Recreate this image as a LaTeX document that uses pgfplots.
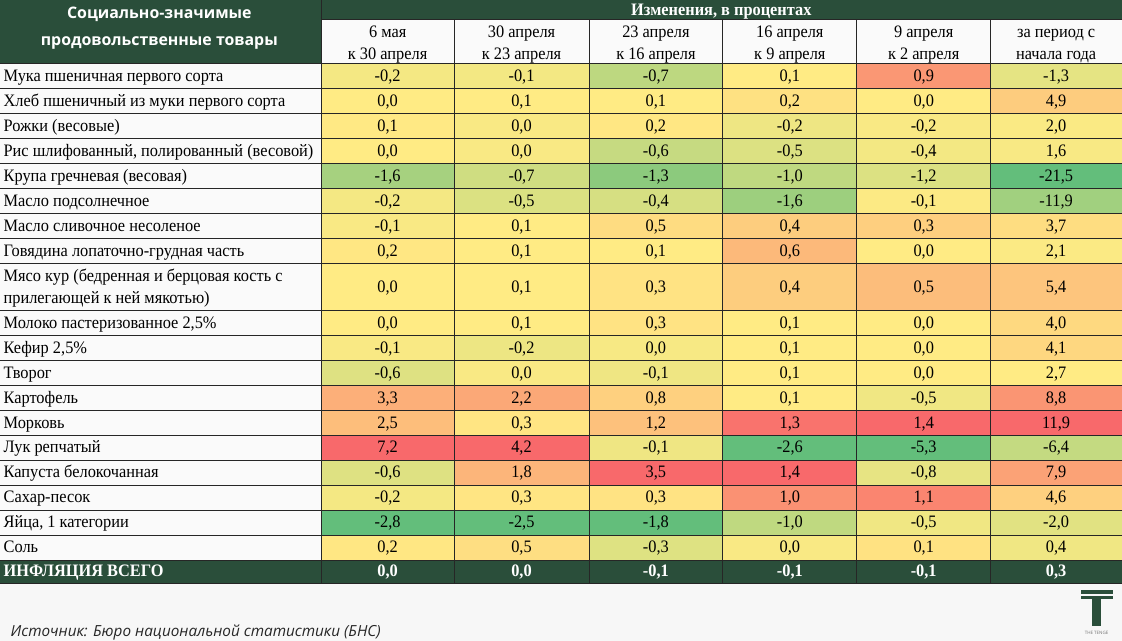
\documentclass[border=0pt]{standalone}
\usepackage{pgfplots}
\pgfplotsset{compat=1.18}
\usepackage{pgfplotstable}
\usepackage{fontspec}
\setmainfont{Liberation Serif}[FakeStretch=0.935]
\newfontfamily\hsans{Open Sans}
\definecolor{dg}{HTML}{2A4E3A}
\definecolor{bg}{HTML}{F7F7F7}
\definecolor{cw}{HTML}{FAFAFA}
\definecolor{exgrn}{RGB}{99,190,123}
\definecolor{exyel}{RGB}{255,235,132}
\definecolor{exred}{RGB}{248,105,107}
\newcommand\fs{\fontsize{17.5}{20}\selectfont}

% a table cell: \mt in [0,1] is the cell's place on the column's colour scale
\pgfdeclareplotmark{cell}{%
  \ifdim\mt pt<0.5pt
    \pgfmathsetmacro\pp{200*\mt}\colorlet{cc}{exyel!\pp!exgrn}%
  \else
    \pgfmathsetmacro\pp{200*(\mt-0.5)}\colorlet{cc}{exred!\pp!exyel}%
  \fi
  \pgfsetfillcolor{cc}%
  \pgfpathrectanglecorners{\pgfpoint{-\cellhw pt}{-\cellhh pt}}{\pgfpoint{\cellhw pt}{\cellhh pt}}%
  \pgfusepathqfill}
\pgfdeclareplotmark{dcell}{%
  \pgfsetfillcolor{dg}%
  \pgfpathrectanglecorners{\pgfpoint{-\cellhw pt}{-\cellhh pt}}{\pgfpoint{\cellhw pt}{\cellhh pt}}%
  \pgfusepathqfill}

% y = row centre (px from top), hh = half row height; columns a..f = weekly changes, %
\pgfplotstableread{
y      hh    a     b     c     d     e     f
76     12.5  -0.2  -0.1  -0.7  0.1   0.9   -1.3
101    12.5  0.0   0.1   0.1   0.2   0.0   4.9
126    12.5  0.1   0.0   0.2   -0.2  -0.2  2.0
151    12.5  0.0   0.0   -0.6  -0.5  -0.4  1.6
176    12.5  -1.6  -0.7  -1.3  -1.0  -1.2  -21.5
201    12.5  -0.2  -0.5  -0.4  -1.6  -0.1  -11.9
226    12.5  -0.1  0.1   0.5   0.4   0.3   3.7
251    12.5  0.2   0.1   0.1   0.6   0.0   2.1
286.75 23.25 0.0   0.1   0.3   0.4   0.5   5.4
322.5  12.5  0.0   0.1   0.3   0.1   0.0   4.0
347.5  12.5  -0.1  -0.2  0.0   0.1   0.0   4.1
372.5  12.5  -0.6  0.0   -0.1  0.1   0.0   2.7
397.5  12.5  3.3   2.2   0.8   0.1   -0.5  8.8
422.5  12.5  2.5   0.3   1.2   1.3   1.4   11.9
447.5  12.5  7.2   4.2   -0.1  -2.6  -5.3  -6.4
472.5  12.5  -0.6  1.8   3.5   1.4   -0.8  7.9
497.5  12.5  -0.2  0.3   0.3   1.0   1.1   4.6
522.5  12.5  -2.8  -2.5  -1.8  -1.0  -0.5  -2.0
547.5  12.5  0.2   0.5   -0.3  0.0   0.1   0.4
}\data

\pgfplotstableread{
x      hw    v
387.5  66.5  0.0
521.5  67.5  0.0
656    67    -0.1
790    67    -0.1
924    67    -0.1
1056.5 65.5  0.3
}\infl

% Excel-style 3-colour scale: min -> green, median -> yellow, max -> red
\newcommand\cscale[4]{ifthenelse(\thisrow{#1}<=(#3), 0.5*(\thisrow{#1}-(#2))/((#3)-(#2)), 0.5+0.5*(\thisrow{#1}-(#3))/((#4)-(#3)))}
\pgfplotsset{
  cellcol/.style n args={5}{
    only marks, mark=cell,
    visualization depends on={value #2 \as \cellhw},
    visualization depends on={\thisrow{hh} \as \cellhh},
    visualization depends on={\thisrow{#1} \as \val},
    visualization depends on={\cscale{#1}{#3}{#4}{#5} \as \mt},
    nodes near coords={\pgfmathprintnumber[fixed,fixed zerofill,precision=1,use comma,assume math mode=true]{\val}},
    every node near coord/.append style={anchor=base, yshift=-5.4pt, font=\fs, text=black, inner sep=0pt},
  }
}

\begin{document}
\begin{tikzpicture}
\begin{axis}[
  set layers,
  scale only axis, width=1122pt, height=641pt,
  xmin=0, xmax=1122, ymin=0, ymax=641, y dir=reverse,
  hide axis, clip=false,
]
% backgrounds
\fill[bg] (axis cs:0,0) rectangle (axis cs:1122,641);
\fill[cw] (axis cs:0,63.5) rectangle (axis cs:321,560);
\fill[cw] (axis cs:321,19) rectangle (axis cs:1122,63.5);
\fill[dg] (axis cs:0,0) rectangle (axis cs:1122,19);
\fill[dg] (axis cs:0,0) rectangle (axis cs:321,63.5);
\fill[dg] (axis cs:0,560) rectangle (axis cs:321,583);

% heat-map cells, one column each (min, median, max of column)
\addplot[cellcol={a}{66.5}{-2.8}{0.0}{7.2}] table[x expr=387.5, y=y] {\data};
\addplot[cellcol={b}{67.5}{-2.5}{0.1}{4.2}] table[x expr=521.5, y=y] {\data};
\addplot[cellcol={c}{67}{-1.8}{0.1}{3.5}] table[x expr=656, y=y] {\data};
\addplot[cellcol={d}{67}{-2.6}{0.1}{1.4}] table[x expr=790, y=y] {\data};
\addplot[cellcol={e}{67}{-5.3}{0.0}{1.4}] table[x expr=924, y=y] {\data};
\addplot[cellcol={f}{65.5}{-21.5}{2.7}{11.9}] table[x expr=1056.5, y=y] {\data};

% total inflation row
\addplot[only marks, mark=dcell, color=dg, mark options={fill=dg, draw=none},
  visualization depends on={\thisrow{hw} \as \cellhw},
  visualization depends on={value 11.5 \as \cellhh},
  visualization depends on={\thisrow{v} \as \val},
  nodes near coords={\pgfmathprintnumber[fixed,fixed zerofill,precision=1,use comma,assume math mode=true]{\val}},
  every node near coord/.append style={anchor=base, yshift=-5.4pt, font=\fs\bfseries, text=white, inner sep=0pt},
] table[x=x, y expr=571.5] {\infl};

% grid (on top of the cells)
\begin{pgfonlayer}{axis foreground}
\draw[black!85, line width=0.9pt]
  (axis cs:321,0) -- (axis cs:321,583)
  (axis cs:454,19) -- (axis cs:454,583)
  (axis cs:589,19) -- (axis cs:589,583)
  (axis cs:723,19) -- (axis cs:723,583)
  (axis cs:857,19) -- (axis cs:857,583)
  (axis cs:991,19) -- (axis cs:991,583)
  (axis cs:321,19) -- (axis cs:1122,19)
  (axis cs:0,63.5) -- (axis cs:1122,63.5)
  (axis cs:0,88.5) -- (axis cs:1122,88.5)
  (axis cs:0,113.5) -- (axis cs:1122,113.5)
  (axis cs:0,138.5) -- (axis cs:1122,138.5)
  (axis cs:0,163.5) -- (axis cs:1122,163.5)
  (axis cs:0,188.5) -- (axis cs:1122,188.5)
  (axis cs:0,213.5) -- (axis cs:1122,213.5)
  (axis cs:0,238.5) -- (axis cs:1122,238.5)
  (axis cs:0,263.5) -- (axis cs:1122,263.5)
  (axis cs:0,310) -- (axis cs:1122,310)
  (axis cs:0,335) -- (axis cs:1122,335)
  (axis cs:0,360) -- (axis cs:1122,360)
  (axis cs:0,385) -- (axis cs:1122,385)
  (axis cs:0,410) -- (axis cs:1122,410)
  (axis cs:0,435) -- (axis cs:1122,435)
  (axis cs:0,460) -- (axis cs:1122,460)
  (axis cs:0,485) -- (axis cs:1122,485)
  (axis cs:0,510) -- (axis cs:1122,510)
  (axis cs:0,535) -- (axis cs:1122,535)
  (axis cs:0,560) -- (axis cs:1122,560)
  (axis cs:0,583) -- (axis cs:1122,583);
\end{pgfonlayer}

% header texts
\node[text=white, font=\hsans\bfseries\fontsize{15.9}{18}\selectfont] at (axis cs:159,13.5) {Социально-значимые};
\node[text=white, font=\hsans\bfseries\fontsize{15.9}{18}\selectfont] at (axis cs:159,43) {продовольственные товары};
\node[anchor=base, text=white, font=\fs\bfseries, inner sep=0pt] at (axis cs:721.5,15) {Изменения, в процентах};
\node[anchor=base, font=\fs, inner sep=0pt] at (axis cs:387.5,37.3) {6 мая};
\node[anchor=base, font=\fs, inner sep=0pt] at (axis cs:387.5,59.3) {к 30 апреля};
\node[anchor=base, font=\fs, inner sep=0pt] at (axis cs:521.5,37.3) {30 апреля};
\node[anchor=base, font=\fs, inner sep=0pt] at (axis cs:521.5,59.3) {к 23 апреля};
\node[anchor=base, font=\fs, inner sep=0pt] at (axis cs:656,37.3) {23 апреля};
\node[anchor=base, font=\fs, inner sep=0pt] at (axis cs:656,59.3) {к 16 апреля};
\node[anchor=base, font=\fs, inner sep=0pt] at (axis cs:790,37.3) {16 апреля};
\node[anchor=base, font=\fs, inner sep=0pt] at (axis cs:790,59.3) {к 9 апреля};
\node[anchor=base, font=\fs, inner sep=0pt] at (axis cs:924,37.3) {9 апреля};
\node[anchor=base, font=\fs, inner sep=0pt] at (axis cs:924,59.3) {к 2 апреля};
\node[anchor=base, font=\fs, inner sep=0pt] at (axis cs:1056.5,37.3) {за период с};
\node[anchor=base, font=\fs, inner sep=0pt] at (axis cs:1056.5,59.3) {начала года};

% row labels (baseline = row centre + 5.4)
\node[anchor=base west, font=\fs, inner sep=0pt] at (axis cs:3,81.4) {Мука пшеничная первого сорта};
\node[anchor=base west, font=\fs, inner sep=0pt] at (axis cs:3,106.4) {Хлеб пшеничный из муки первого сорта};
\node[anchor=base west, font=\fs, inner sep=0pt] at (axis cs:3,131.4) {Рожки (весовые)};
\node[anchor=base west, font=\fs, inner sep=0pt] at (axis cs:3,156.4) {Рис шлифованный, полированный (весовой)};
\node[anchor=base west, font=\fs, inner sep=0pt] at (axis cs:3,181.4) {Крупа гречневая (весовая)};
\node[anchor=base west, font=\fs, inner sep=0pt] at (axis cs:3,206.4) {Масло подсолнечное};
\node[anchor=base west, font=\fs, inner sep=0pt] at (axis cs:3,231.4) {Масло сливочное несоленое};
\node[anchor=base west, font=\fs, inner sep=0pt] at (axis cs:3,256.4) {Говядина лопаточно-грудная часть};
\node[anchor=base west, font=\fs, inner sep=0pt] at (axis cs:3,281) {Мясо кур (бедренная и берцовая кость с};
\node[anchor=base west, font=\fs, inner sep=0pt] at (axis cs:3,303) {прилегающей к ней мякотью)};
\node[anchor=base west, font=\fs, inner sep=0pt] at (axis cs:3,327.9) {Молоко пастеризованное 2,5\%};
\node[anchor=base west, font=\fs, inner sep=0pt] at (axis cs:3,352.9) {Кефир 2,5\%};
\node[anchor=base west, font=\fs, inner sep=0pt] at (axis cs:3,377.9) {Творог};
\node[anchor=base west, font=\fs, inner sep=0pt] at (axis cs:3,402.9) {Картофель};
\node[anchor=base west, font=\fs, inner sep=0pt] at (axis cs:3,427.9) {Морковь};
\node[anchor=base west, font=\fs, inner sep=0pt] at (axis cs:3,452.9) {Лук репчатый};
\node[anchor=base west, font=\fs, inner sep=0pt] at (axis cs:3,477.9) {Капуста белокочанная};
\node[anchor=base west, font=\fs, inner sep=0pt] at (axis cs:3,502.9) {Сахар-песок};
\node[anchor=base west, font=\fs, inner sep=0pt] at (axis cs:3,527.9) {Яйца, 1 категории};
\node[anchor=base west, font=\fs, inner sep=0pt] at (axis cs:3,552.9) {Соль};
\node[anchor=base west, font=\fs\bfseries, text=white, inner sep=0pt] at (axis cs:3,576.9) {ИНФЛЯЦИЯ ВСЕГО};

% footer
\node[anchor=base west, font=\hsans\itshape\fontsize{15.3}{18}\selectfont, text=black!85, inner sep=0pt] at (axis cs:10,636.7) {Источник: Бюро национальной статистики (БНС)};
\fill[dg] (axis cs:1081,590) rectangle (axis cs:1113,594.3);
\fill[dg] (axis cs:1081,595.6) rectangle (axis cs:1113,599);
\fill[dg] (axis cs:1092.7,599) rectangle (axis cs:1101.7,626);
\node[font=\hsans\fontsize{4.5}{5}\selectfont, text=black!55, inner sep=0pt] at (axis cs:1097,632.5) {THE TENGE};
\end{axis}
\end{tikzpicture}
\end{document}
